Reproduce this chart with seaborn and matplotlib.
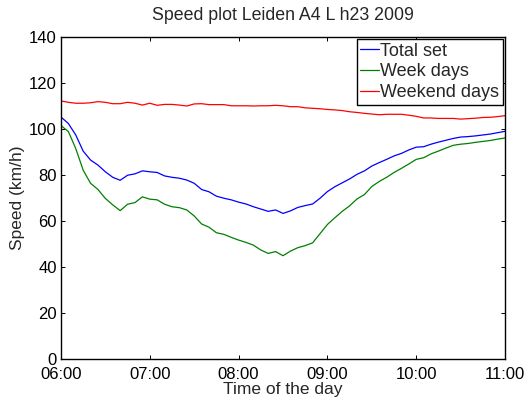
import numpy as np
import pandas as pd
import matplotlib
matplotlib.use("Agg")
import matplotlib.pyplot as plt
import matplotlib.dates as mdates
import seaborn as sns

# 5-minute samples between 06:00 and 11:00
times = pd.date_range("2009-06-01 06:00", "2009-06-01 11:00", freq="5min")

total_set = [
    105.2, 102.4, 97.4, 90.4, 86.5, 84.3, 81.4, 79.0, 77.7, 79.9,
    80.5, 81.8, 81.4, 81.1, 79.6, 79.0, 78.6, 77.8, 76.4, 73.7,
    72.7, 70.8, 69.9, 69.2, 68.2, 67.4, 66.2, 65.2, 64.2, 64.8,
    63.3, 64.4, 65.9, 66.7, 67.4, 69.9, 72.8, 74.9, 76.6, 78.3,
    80.3, 81.8, 83.9, 85.4, 86.8, 88.3, 89.4, 90.9, 92.1, 92.3,
    93.4, 94.3, 95.1, 95.9, 96.5, 96.7, 97.0, 97.4, 97.8, 98.4,
    99.0,
]

week_days = [
    101.5, 98.9, 91.5, 82.1, 76.4, 73.7, 69.8, 67.0, 64.5, 67.3,
    68.0, 70.5, 69.5, 69.2, 67.3, 66.2, 65.8, 64.8, 62.2, 58.7,
    57.3, 54.9, 54.2, 52.9, 51.7, 50.7, 49.5, 47.4, 45.9, 46.7,
    44.9, 46.9, 48.4, 49.3, 50.5, 54.5, 58.5, 61.4, 64.2, 66.6,
    69.6, 71.5, 75.0, 77.2, 79.0, 81.1, 82.9, 84.8, 86.8, 87.5,
    89.2, 90.4, 91.7, 92.9, 93.4, 93.7, 94.2, 94.6, 95.0, 95.6,
    96.1,
]

weekend_days = [
    112.2, 111.6, 111.2, 111.2, 111.4, 111.9, 111.6, 111.0, 111.0, 111.6,
    111.2, 110.4, 111.2, 110.3, 110.7, 110.7, 110.4, 110.0, 110.9, 111.0,
    110.6, 110.6, 110.6, 110.1, 110.1, 110.1, 110.0, 110.1, 110.1, 110.3,
    110.1, 109.7, 109.7, 109.2, 109.0, 108.8, 108.5, 108.3, 108.0, 107.5,
    107.2, 106.8, 106.5, 106.2, 106.4, 106.4, 106.4, 106.0, 105.5, 104.8,
    104.8, 104.6, 104.6, 104.6, 104.3, 104.5, 104.7, 105.0, 105.1, 105.4,
    105.8,
]

series_names = ["Total set", "Week days", "Weekend days"]
series_colors = ["#0000ff", "#008000", "#ff0000"]
y_ticks = [0, 20, 40, 60, 80, 100, 120, 140]

df = pd.DataFrame({
    "time": np.tile(times, 3),
    "speed": total_set + week_days + weekend_days,
    "set": np.repeat(series_names, len(times)),
})

sns.set_style("ticks")
plt.rcParams["font.family"] = ["Liberation Sans", "DejaVu Sans"]

fig = plt.figure(figsize=(5.3, 4.0), dpi=100)
ax = fig.add_axes([0.115, 0.1025, 0.838, 0.805])

sns.lineplot(data=df, x="time", y="speed", hue="set",
             palette=dict(zip(series_names, series_colors)),
             hue_order=series_names, linewidth=0.9, ax=ax)

ax.set_xlim(times[0], times[-1])
ax.set_ylim(0, 140)
ax.set_yticks(y_ticks)
ax.xaxis.set_major_locator(mdates.HourLocator())
ax.xaxis.set_major_formatter(mdates.DateFormatter("%H:%M"))

for side in ax.spines.values():
    side.set_visible(True)
    side.set_linewidth(1.0)
    side.set_color("black")

ax.tick_params(direction="in", length=3, width=0.7, top=True, right=True,
               labelsize=12, colors="black")
ax.tick_params(axis="x", pad=5.5)
ax.tick_params(axis="y", pad=3)

ax.set_xlabel("Time of the day", fontsize=12.5, labelpad=0)
ax.set_ylabel("Speed (km/h)", fontsize=12.5, labelpad=3)
ax.set_title("Speed plot Leiden A4 L h23 2009", fontsize=12.8, pad=12)

leg = ax.legend(loc="upper right", bbox_to_anchor=(1.0, 1.0),
                borderaxespad=0.12, fontsize=13, handlelength=1.0,
                handletextpad=0.1, labelspacing=0.2, borderpad=0.2,
                fancybox=False, framealpha=1.0, edgecolor="black")
leg.get_frame().set_linewidth(1.0)

fig.savefig("out.png", dpi=100)
